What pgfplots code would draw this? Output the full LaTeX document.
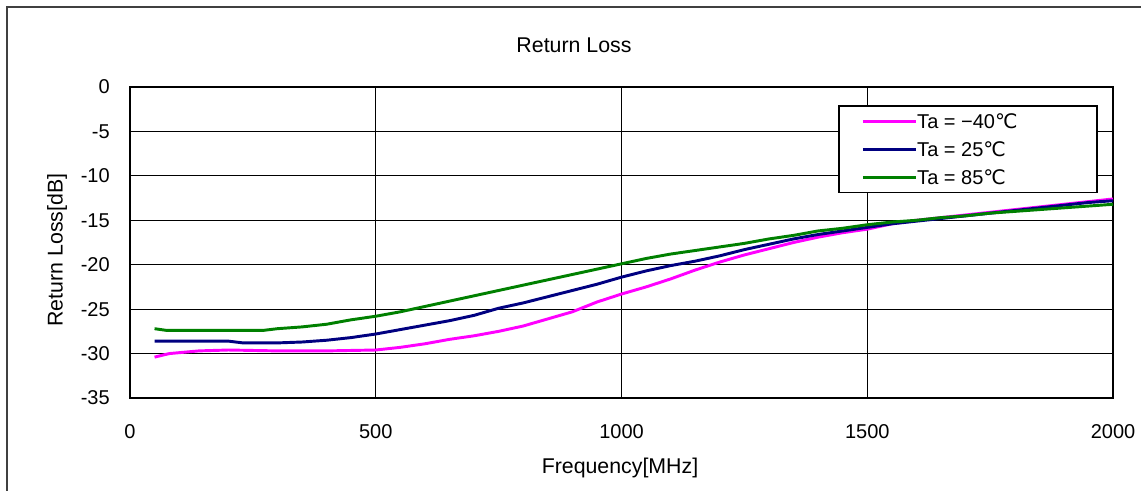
\documentclass[border=0pt]{standalone}
\usepackage{pgfplots}
\pgfplotsset{compat=1.18}
\usepackage{fontspec}
\setmainfont{Liberation Sans}
\newfontfamily\dejavu{DejaVu Sans}
\definecolor{cpink}{RGB}{255,0,255}
\definecolor{cblue}{RGB}{0,0,128}
\definecolor{cgreen}{RGB}{0,128,0}
\newcommand{\degC}{{\dejavu ℃}}
\begin{document}
\begin{tikzpicture}
\useasboundingbox (-97.5pt,-69.75pt) rectangle (758.25pt,298.5pt);
\clip (-97.5pt,-69.75pt) rectangle (758.25pt,298.5pt);
\draw[line width=1.5pt, black!75] (-92.25pt,-76.5pt) rectangle (765pt,293.25pt);
\begin{axis}[
  at={(0pt,0pt)}, anchor=south west,
  scale only axis, width=737.25pt, height=233.25pt,
  xmin=0, xmax=2000, ymin=-35, ymax=0,
  xtick={0,500,1000,1500,2000}, xticklabels={0,500,1000,1500,2000},
  ytick={-35,-30,-25,-20,-15,-10,-5,0},
  yticklabels={-35,-30,-25,-20,-15,-10,-5,0},
  grid=major, major grid style={black, line width=0.9pt},
  axis line style={black, line width=1.2pt},
  major tick length=0pt,
  tick label style={font=\fontsize{15}{18}\selectfont},
  xticklabel style={anchor=center, yshift=-25.5pt},
  yticklabel style={anchor=east, inner sep=0pt, xshift=-15pt},
  legend style={at={(0.7202,0.9421)}, anchor=north west, draw=black, line width=1.2pt,
    fill=white, inner xsep=0pt, inner ysep=1pt, row sep=0pt, column sep=0pt,
    font=\fontsize{15}{18}\selectfont,
    nodes={inner sep=0pt, text height=15.9pt, text depth=5.1pt}},
  legend cell align=left,
  legend image code/.code={\path[draw=none,fill=none] (-18pt,0pt) rectangle (0pt,0.1pt); \draw[#1] (0pt,0pt) -- (39.75pt,0pt);},
]
\addplot[cpink, line width=2.2pt] coordinates {
(50,-30.4) (80,-30.0) (140,-29.7) (200,-29.6) (300,-29.7) (400,-29.7) (500,-29.6)
(550,-29.3) (600,-28.9) (650,-28.4) (700,-28.0) (750,-27.5) (800,-26.9) (850,-26.1)
(900,-25.3) (950,-24.2) (1000,-23.3) (1050,-22.5) (1100,-21.6) (1150,-20.6) (1200,-19.7)
(1250,-18.9) (1300,-18.2) (1350,-17.5) (1400,-16.9) (1450,-16.4) (1500,-16.0) (1550,-15.4)
(1600,-15.0) (1650,-14.7) (1700,-14.4) (1750,-14.1) (1800,-13.8) (1850,-13.5) (1900,-13.2)
(1950,-12.9) (2000,-12.6)};
\addlegendentry{\makebox[135pt][l]{Ta = −40\degC}}
\addplot[cblue, line width=2.2pt] coordinates {
(50,-28.6) (100,-28.6) (200,-28.6) (230,-28.8) (300,-28.8) (350,-28.7) (400,-28.5)
(450,-28.2) (500,-27.8) (550,-27.3) (600,-26.8) (650,-26.3) (700,-25.7) (750,-24.9)
(800,-24.3) (850,-23.6) (900,-22.9) (950,-22.2) (1000,-21.4) (1050,-20.7) (1100,-20.1)
(1150,-19.6) (1200,-19.0) (1250,-18.3) (1300,-17.7) (1350,-17.1) (1400,-16.6) (1450,-16.2)
(1500,-15.8) (1550,-15.4) (1600,-15.1) (1650,-14.8) (1700,-14.5) (1750,-14.2) (1800,-13.9)
(1850,-13.6) (1900,-13.3) (1950,-13.0) (2000,-12.8)};
\addlegendentry{\makebox[135pt][l]{Ta = 25\degC}}
\addplot[cgreen, line width=2.2pt] coordinates {
(50,-27.2) (75,-27.4) (150,-27.4) (270,-27.4) (300,-27.2) (350,-27.0) (400,-26.7)
(450,-26.2) (500,-25.8) (550,-25.3) (600,-24.7) (650,-24.1) (700,-23.5) (750,-22.9)
(800,-22.3) (850,-21.7) (900,-21.1) (950,-20.5) (1000,-19.9) (1050,-19.3) (1100,-18.8)
(1150,-18.4) (1200,-18.0) (1250,-17.6) (1300,-17.1) (1350,-16.7) (1400,-16.2) (1450,-15.9)
(1500,-15.5) (1550,-15.2) (1600,-15.0) (1650,-14.7) (1700,-14.5) (1750,-14.2) (1800,-14.0)
(1850,-13.8) (1900,-13.6) (1950,-13.4) (2000,-13.2)};
\addlegendentry{\makebox[135pt][l]{Ta = 85\degC}}
\end{axis}
\node[font=\fontsize{16}{19}\selectfont] at (333pt,264.75pt) {Return Loss};
\node[font=\fontsize{16}{19}\selectfont] at (367.5pt,-52.5pt) {Frequency[MHz]};
\node[font=\fontsize{16}{19}\selectfont, rotate=90] at (-54.75pt,111pt) {Return Loss[dB]};
\end{tikzpicture}
\end{document}
